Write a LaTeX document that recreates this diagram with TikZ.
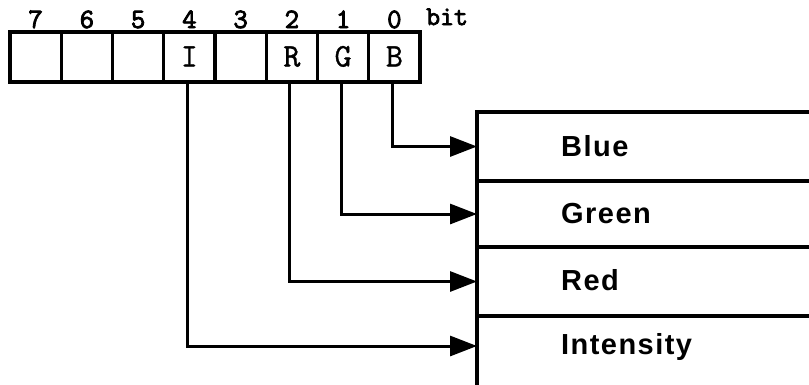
\documentclass[tikz,border=0pt]{standalone}
\usepackage{fontspec}
\setmainfont{Liberation Sans}
\newfontfamily\labf[LetterSpace=5]{Liberation Sans Bold}
\newfontfamily\courf[FakeBold=1]{Latin Modern Mono}
\newfontfamily\courbf[FakeBold=3]{Latin Modern Mono}
\usetikzlibrary{arrows.meta}
\begin{document}
\begin{tikzpicture}[x=1pt,y=-1pt,
  cell/.style={draw,line width=3.2pt,minimum width=51.25pt,minimum height=50pt,inner sep=0pt,outer sep=0pt,font=\courf\fontsize{33}{33}\selectfont,text height=19pt,text depth=0pt},
  bitnum/.style={inner sep=0pt,font=\courbf\fontsize{28}{28}\selectfont,anchor=base},
  row/.style={draw,line width=3.2pt,minimum width=360pt,inner sep=0pt,outer sep=0pt,anchor=north west},
  rowlab/.style={inner sep=0pt,anchor=west,font=\labf\fontsize{29}{29}\selectfont},
  conn/.style={line width=3pt,-{Triangle[length=27pt,width=20pt]}}]
\useasboundingbox (0,0) rectangle (809,384);
\clip (0,0) rectangle (809,384);
% bit cells
\foreach \i/\t in {7/,6/,5/,4/I,3/,2/R,1/G,0/B}{
  \node[cell] (c\i) at ({10+51.25*(7-\i)+25.625},57) {\t};
  \node[bitnum] (n\i) at ({10+51.25*(7-\i)+25.625},28) {\i};
}
\node[inner sep=0pt,anchor=base west,font=\courbf\fontsize{27}{27}\selectfont] (bitlab) at (426,25) {bit};
% right box rows
\node[row,minimum height=69pt] (rB) at (477,112) {};
\node[row,minimum height=66pt] (rG) at (477,181) {};
\node[row,minimum height=69pt] (rR) at (477,247) {};
\node[row,minimum height=90pt] (rI) at (477,316) {};
\node[rowlab] (tB) at (561,146) {Blue};
\node[rowlab] (tG) at (561,214) {Green};
\node[rowlab] (tR) at (561,280) {Red};
\node[rowlab] (tI) at (561,347) {Intensity};
% connectors
\draw[conn] ([xshift=-2pt]c0.south) |- (rB.west);
\draw[conn] ([xshift=-2pt]c1.south) |- (rG.west);
\draw[conn] ([xshift=-2pt]c2.south) |- (rR.west);
\draw[conn] ([xshift=-2pt]c4.south) |- ([yshift=-30pt]rI.north west);
\end{tikzpicture}
\end{document}
